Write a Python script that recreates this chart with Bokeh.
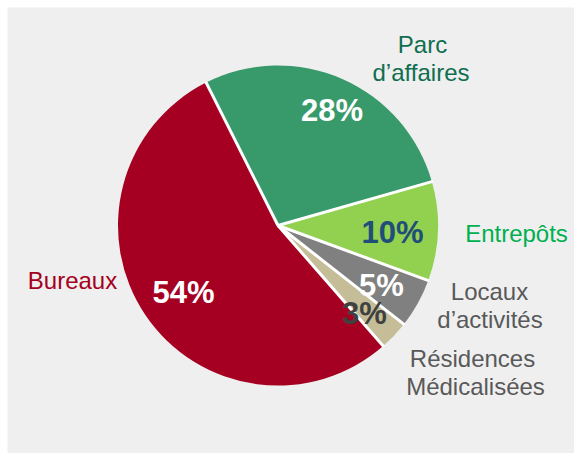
import math
from bokeh.plotting import figure
from bokeh.models import ColumnDataSource
from bokeh.core.properties import value
from bokeh.embed import file_html
from bokeh.resources import INLINE

# ---- data (clockwise from the top) ----
categories = ["Parc d\u2019affaires", "Entrep\u00f4ts", "Locaux d\u2019activit\u00e9s",
              "R\u00e9sidences M\u00e9dicalis\u00e9es", "Bureaux"]
label_lines = [["Parc", "d\u2019affaires"], ["Entrep\u00f4ts"], ["Locaux", "d\u2019activit\u00e9s"],
               ["R\u00e9sidences", "M\u00e9dicalis\u00e9es"], ["Bureaux"]]
shares = [28, 10, 5, 3, 54]
pct_labels = ["28%", "10%", "5%", "3%", "54%"]

# ---- styles ----
slice_colors = ["#389a6a", "#92d050", "#808080", "#c4bd97", "#a50021"]
pct_colors = ["#ffffff", "#1f4e79", "#ffffff", "#404040", "#ffffff"]
cat_colors = ["#0f6e4f", "#00b050", "#595959", "#595959", "#a50021"]

W, H = 574, 453
PAD = 7
# layout in picture pixel coordinates (top-left origin)
cx_px, cy_px, R = 277.5, 225.0, 160.0
start_deg = 116.7  # angle (ccw from +x) where the first slice starts
pct_pos = [(331.5, 110), (392, 232), (381, 285), (364, 313), (183, 292)]
cat_pos = [[(422, 44), (420.5, 72)], [(516, 233)], [(489, 291), (489.5, 319)],
           [(472, 358), (475, 386)], [(72, 280)]]

TOP_REF = 461

def X(px):
    return px

def Y(py):
    return TOP_REF - py

p = figure(width=W, height=H, x_range=(PAD, W), y_range=(TOP_REF - H, TOP_REF - PAD),
           output_backend="svg", toolbar_location=None,
           min_border_left=PAD, min_border_top=PAD, min_border_right=0, min_border_bottom=0)
p.axis.visible = False
p.grid.visible = False
p.outline_line_color = None
p.background_fill_color = "#efefef"
p.border_fill_color = "#ffffff"

total = float(sum(shares))
starts, ends = [], []
cum = 0.0
for s in shares:
    a0 = math.radians(start_deg - cum / total * 360.0)
    cum += s
    a1 = math.radians(start_deg - cum / total * 360.0)
    starts.append(a0)
    ends.append(a1)

src = ColumnDataSource(dict(x=[X(cx_px)] * len(shares), y=[Y(cy_px)] * len(shares),
                            start=starts, end=ends, color=slice_colors, cat=categories))
p.wedge(x="x", y="y", radius=R, start_angle="start", end_angle="end",
        direction="clock", fill_color="color", line_color=None, source=src)

# white separators between slices
sx0, sy0, sx1, sy1 = [], [], [], []
for a in starts:
    sx0.append(X(cx_px)); sy0.append(Y(cy_px))
    sx1.append(X(cx_px) + (R + 1) * math.cos(a)); sy1.append(Y(cy_px) + (R + 1) * math.sin(a))
p.segment(x0=sx0, y0=sy0, x1=sx1, y1=sy1, line_color="white", line_width=3)

# percentage labels
p.text(x=[X(a) for a, b in pct_pos], y=[Y(b) for a, b in pct_pos], text=pct_labels,
       text_color=pct_colors, text_font=value("Liberation Sans"), text_font_style="bold",
       text_font_size="31px", text_align="center", text_baseline="middle")

# category labels
lx, ly, lt, lc = [], [], [], []
for lines, poss, col in zip(label_lines, cat_pos, cat_colors):
    for t, (a, b) in zip(lines, poss):
        lx.append(X(a)); ly.append(Y(b)); lt.append(t); lc.append(col)
p.text(x=lx, y=ly, text=lt, text_color=lc, text_font=value("Liberation Sans"),
       text_font_size="24px", text_align="center", text_baseline="middle")

open("out.html", "w").write(file_html(p, INLINE))
